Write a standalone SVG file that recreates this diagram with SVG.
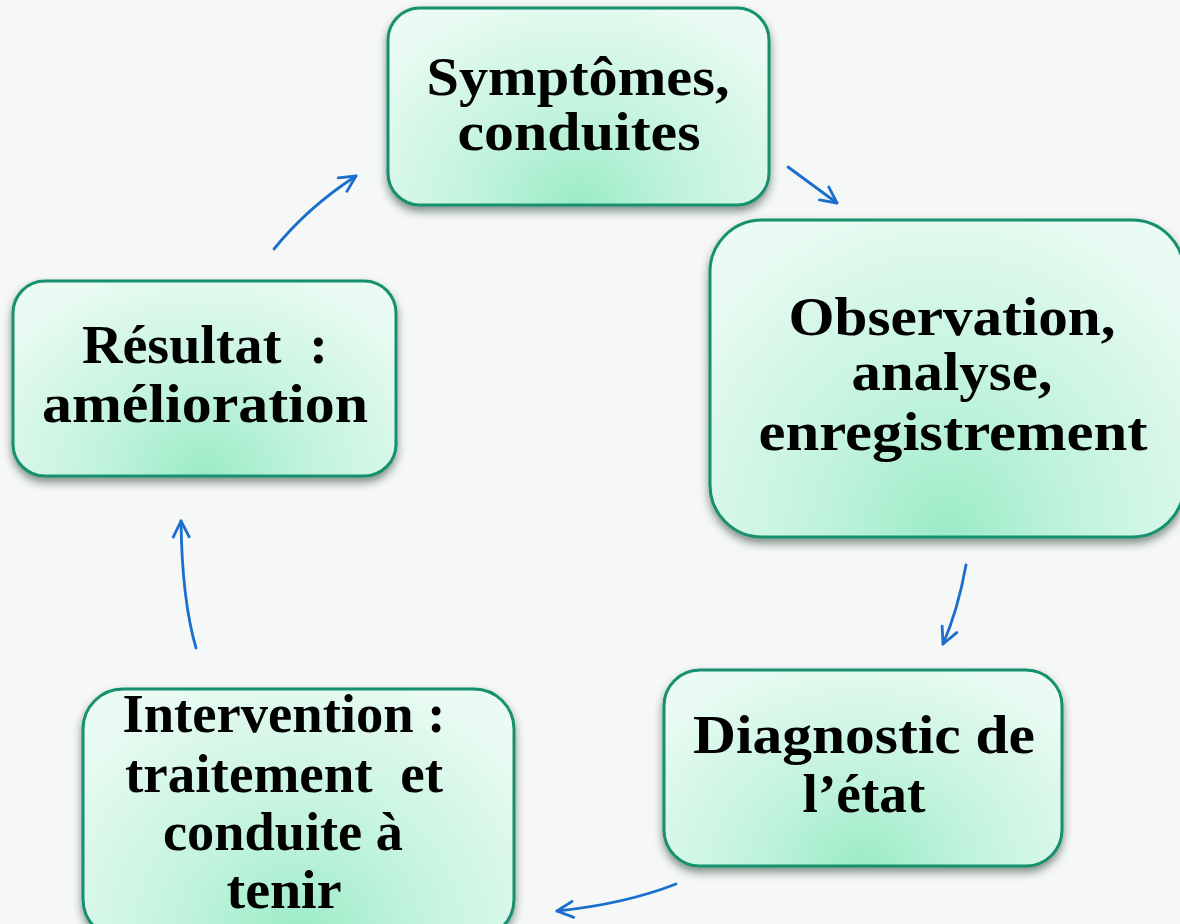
<svg xmlns="http://www.w3.org/2000/svg" width="1180" height="924" viewBox="0 0 1180 924">
<defs>
<style>
.box{stroke:#15906e;stroke-width:3;fill:url(#g);filter:url(#sh)}
.t{font-family:"Liberation Serif","Times New Roman",serif;font-weight:bold;font-size:54px;fill:#000;text-anchor:middle;white-space:pre}
.c{fill:none;stroke:#1a6fcc;stroke-width:2.8;stroke-linecap:round;marker-end:url(#ah)}
</style>
<radialGradient id="g" cx="0.5" cy="1" r="1.1" fx="0.5" fy="1" gradientTransform="translate(0.5 1) scale(0.6 1) translate(-0.5 -1)">
<stop offset="0" stop-color="#9aebc7"/>
<stop offset="0.4" stop-color="#c0f3dc"/>
<stop offset="0.8" stop-color="#dbf8ea"/>
<stop offset="1" stop-color="#eafbf3"/>
</radialGradient>
<filter id="sh" x="-10%" y="-10%" width="120%" height="130%">
<feDropShadow dx="0" dy="5" stdDeviation="4" flood-color="#1d3a30" flood-opacity="0.55"/>
</filter>
<marker id="ah" markerUnits="userSpaceOnUse" markerWidth="40" markerHeight="40" refX="0" refY="0" orient="auto" overflow="visible">
<path d="M-16,-8 L0,0 L-16,8" fill="none" stroke="#1a6fcc" stroke-width="2.8" stroke-linecap="round" stroke-linejoin="round"/>
</marker>
</defs>
<rect width="1180" height="924" fill="#f6f7f7"/>
<g id="connectors">
<path class="c" d="M274,249 Q308,207 356,176"/>
<path class="c" d="M788,167 L837,203"/>
<path class="c" d="M966,565 Q958,610 943,644"/>
<path class="c" d="M676,884 Q625,904 557,911"/>
<path class="c" d="M196,648 Q182,600 181,521"/>
</g>
<g id="n1">
<rect class="box" x="388" y="8" width="381" height="197" rx="32"/>
<text class="t" x="578" y="95" textLength="303" lengthAdjust="spacingAndGlyphs">Symptômes,</text>
<text class="t" x="579" y="150" textLength="243" lengthAdjust="spacingAndGlyphs">conduites</text>
</g>
<g id="n2">
<rect class="box" x="710" y="220" width="474" height="317" rx="52"/>
<text class="t" x="952" y="335" textLength="327" lengthAdjust="spacingAndGlyphs">Observation,</text>
<text class="t" x="952" y="390" textLength="201" lengthAdjust="spacingAndGlyphs">analyse,</text>
<text class="t" x="953" y="450" textLength="389" lengthAdjust="spacingAndGlyphs">enregistrement</text>
</g>
<g id="n3">
<rect class="box" x="664" y="670" width="398" height="196" rx="36"/>
<text class="t" x="864" y="753" textLength="342" lengthAdjust="spacingAndGlyphs">Diagnostic de</text>
<text class="t" x="864" y="812" textLength="123" lengthAdjust="spacingAndGlyphs">l’état</text>
</g>
<g id="n4">
<rect class="box" x="83" y="689" width="431" height="250" rx="40"/>
<text class="t" x="284" y="732" textLength="323" lengthAdjust="spacingAndGlyphs">Intervention :</text>
<text class="t" x="284" y="792" textLength="318" lengthAdjust="spacingAndGlyphs" xml:space="preserve">traitement  et</text>
<text class="t" x="283" y="850" textLength="240" lengthAdjust="spacingAndGlyphs">conduite à</text>
<text class="t" x="284" y="908" textLength="115" lengthAdjust="spacingAndGlyphs">tenir</text>
</g>
<g id="n5">
<rect class="box" x="13" y="281" width="383" height="195" rx="32"/>
<text class="t" x="205" y="363" textLength="246" lengthAdjust="spacingAndGlyphs" xml:space="preserve">Résultat  :</text>
<text class="t" x="205" y="422" textLength="326" lengthAdjust="spacingAndGlyphs">amélioration</text>
</g>
</svg>
